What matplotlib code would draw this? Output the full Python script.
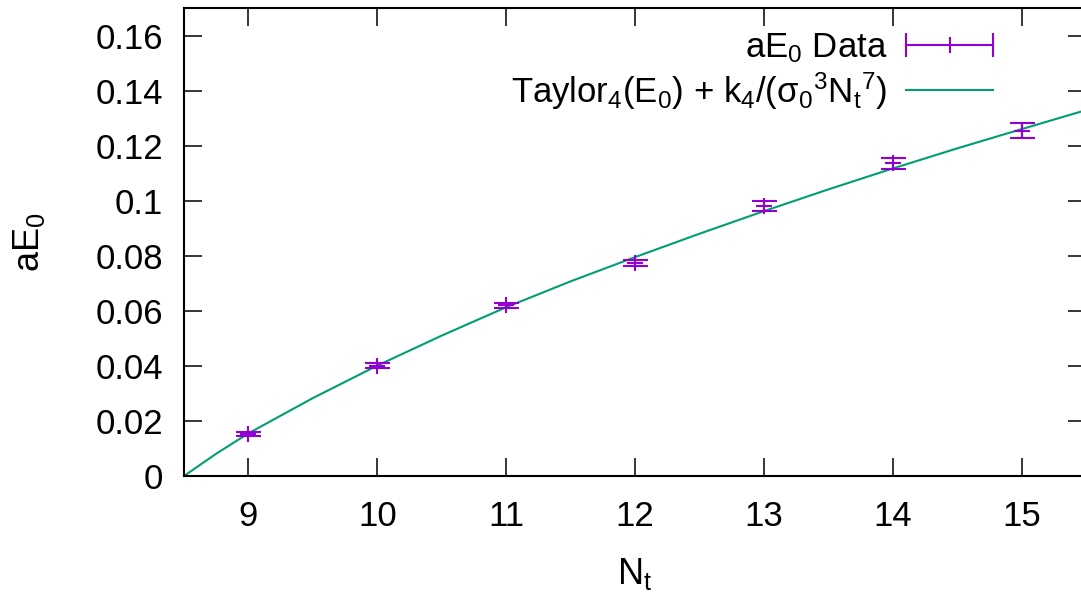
import matplotlib
matplotlib.use("Agg")
import matplotlib.pyplot as plt
from matplotlib.lines import Line2D
from matplotlib.legend_handler import HandlerBase

# data
nt = [9, 10, 11, 12, 13, 14, 15]
ae0 = [0.0153, 0.0401, 0.0620, 0.0774, 0.0981, 0.1136, 0.1254]
ae0_err = [0.0008, 0.0008, 0.0010, 0.0012, 0.0017, 0.0020, 0.0028]

# fitted curve
fit_x = [8.5, 8.75, 9, 9.5, 10, 10.5, 11, 11.5, 12, 12.5, 13, 13.5, 14, 14.5, 15, 15.5]
fit_y = [0.0, 0.0081, 0.0155, 0.0283, 0.0401, 0.0510, 0.0613, 0.0707, 0.0795,
         0.0880, 0.0962, 0.1041, 0.1117, 0.1190, 0.1260, 0.1329]

yticks = [0, 0.02, 0.04, 0.06, 0.08, 0.1, 0.12, 0.14, 0.16]
ytick_labels = ["0", "0.02", "0.04", "0.06", "0.08", "0.1", "0.12", "0.14", "0.16"]
xticks = [9, 10, 11, 12, 13, 14, 15]

purple = "#9400D3"
green = "#009E73"


class HandlerKeyErr(HandlerBase):
    # gnuplot style key sample: horizontal bar, end caps, small centre tick
    def create_artists(self, legend, orig_handle, xdescent, ydescent,
                       width, height, fontsize, trans):
        c = orig_handle.get_color()
        y = height / 2 - ydescent
        x0, x1 = -xdescent, -xdescent + width
        line = Line2D([x0, x1], [y, y], color=c, lw=1.5)
        caps = Line2D([x0, x1], [y, y], ls="none", marker="|", ms=17, mew=1.5, color=c)
        mid = Line2D([(x0 + x1) / 2], [y], ls="none", marker="|", ms=11, mew=1.5, color=c)
        for a in (line, caps, mid):
            a.set_transform(trans)
        return [line, caps, mid]


plt.rcParams["font.family"] = ["Liberation Sans", "DejaVu Sans"]
plt.rcParams["mathtext.fontset"] = "custom"
plt.rcParams["mathtext.rm"] = "Liberation Sans"
plt.rcParams["font.size"] = 25

fig = plt.figure(figsize=(10.81, 5.97), dpi=100)
ax = fig.add_axes([184 / 1081, 121 / 597, 902 / 1081, 468 / 597])

ax.plot(fit_x, fit_y, color=green, lw=1.5, zorder=2)
ax.errorbar(nt, ae0, yerr=ae0_err, fmt="+", color=purple, ms=12, mew=1.5,
            elinewidth=1.5, capsize=9, capthick=1.5, zorder=3)

ax.set_xlim(8.5, 15.5)
ax.set_ylim(0, 0.17)
ax.set_xticks(xticks)
ax.set_yticks(yticks)
ax.set_yticklabels(ytick_labels)

for s in ax.spines.values():
    s.set_linewidth(1.5)
ax.tick_params(direction="in", length=13, width=1.1, top=True, right=True)
ax.tick_params(axis="x", pad=17)
ax.tick_params(axis="y", pad=15)

ax.set_xlabel(r"$\mathregular{N_t}$", fontsize=26)
ax.set_ylabel(r"$\mathregular{aE_0}$", fontsize=26)
ax.xaxis.set_label_coords(0.5, -0.172)
ax.yaxis.set_label_coords(-0.152, 0.5)

# legend
data_key = Line2D([], [], color=purple)
fit_key = Line2D([], [], color=green, lw=1.5)
ax.legend([data_key, fit_key],
          [r"aE$\mathregular{_0}$ Data",
           r"Taylor$\mathregular{_4}$(E$\mathregular{_0}$) + k$\mathregular{_4}$"
           r"/(σ$\mathregular{_0}$$\mathregular{^3}$N$\mathregular{_t}$$\mathregular{^7}$)"],
          handler_map={data_key: HandlerKeyErr()},
          loc="upper right", bbox_to_anchor=(0.897, 0.95), fontsize=25,
          frameon=False, markerfirst=False, handlelength=2.5,
          handletextpad=0.55, labelspacing=0.15, borderpad=0, borderaxespad=0)

fig.savefig("out.png", dpi=100)
